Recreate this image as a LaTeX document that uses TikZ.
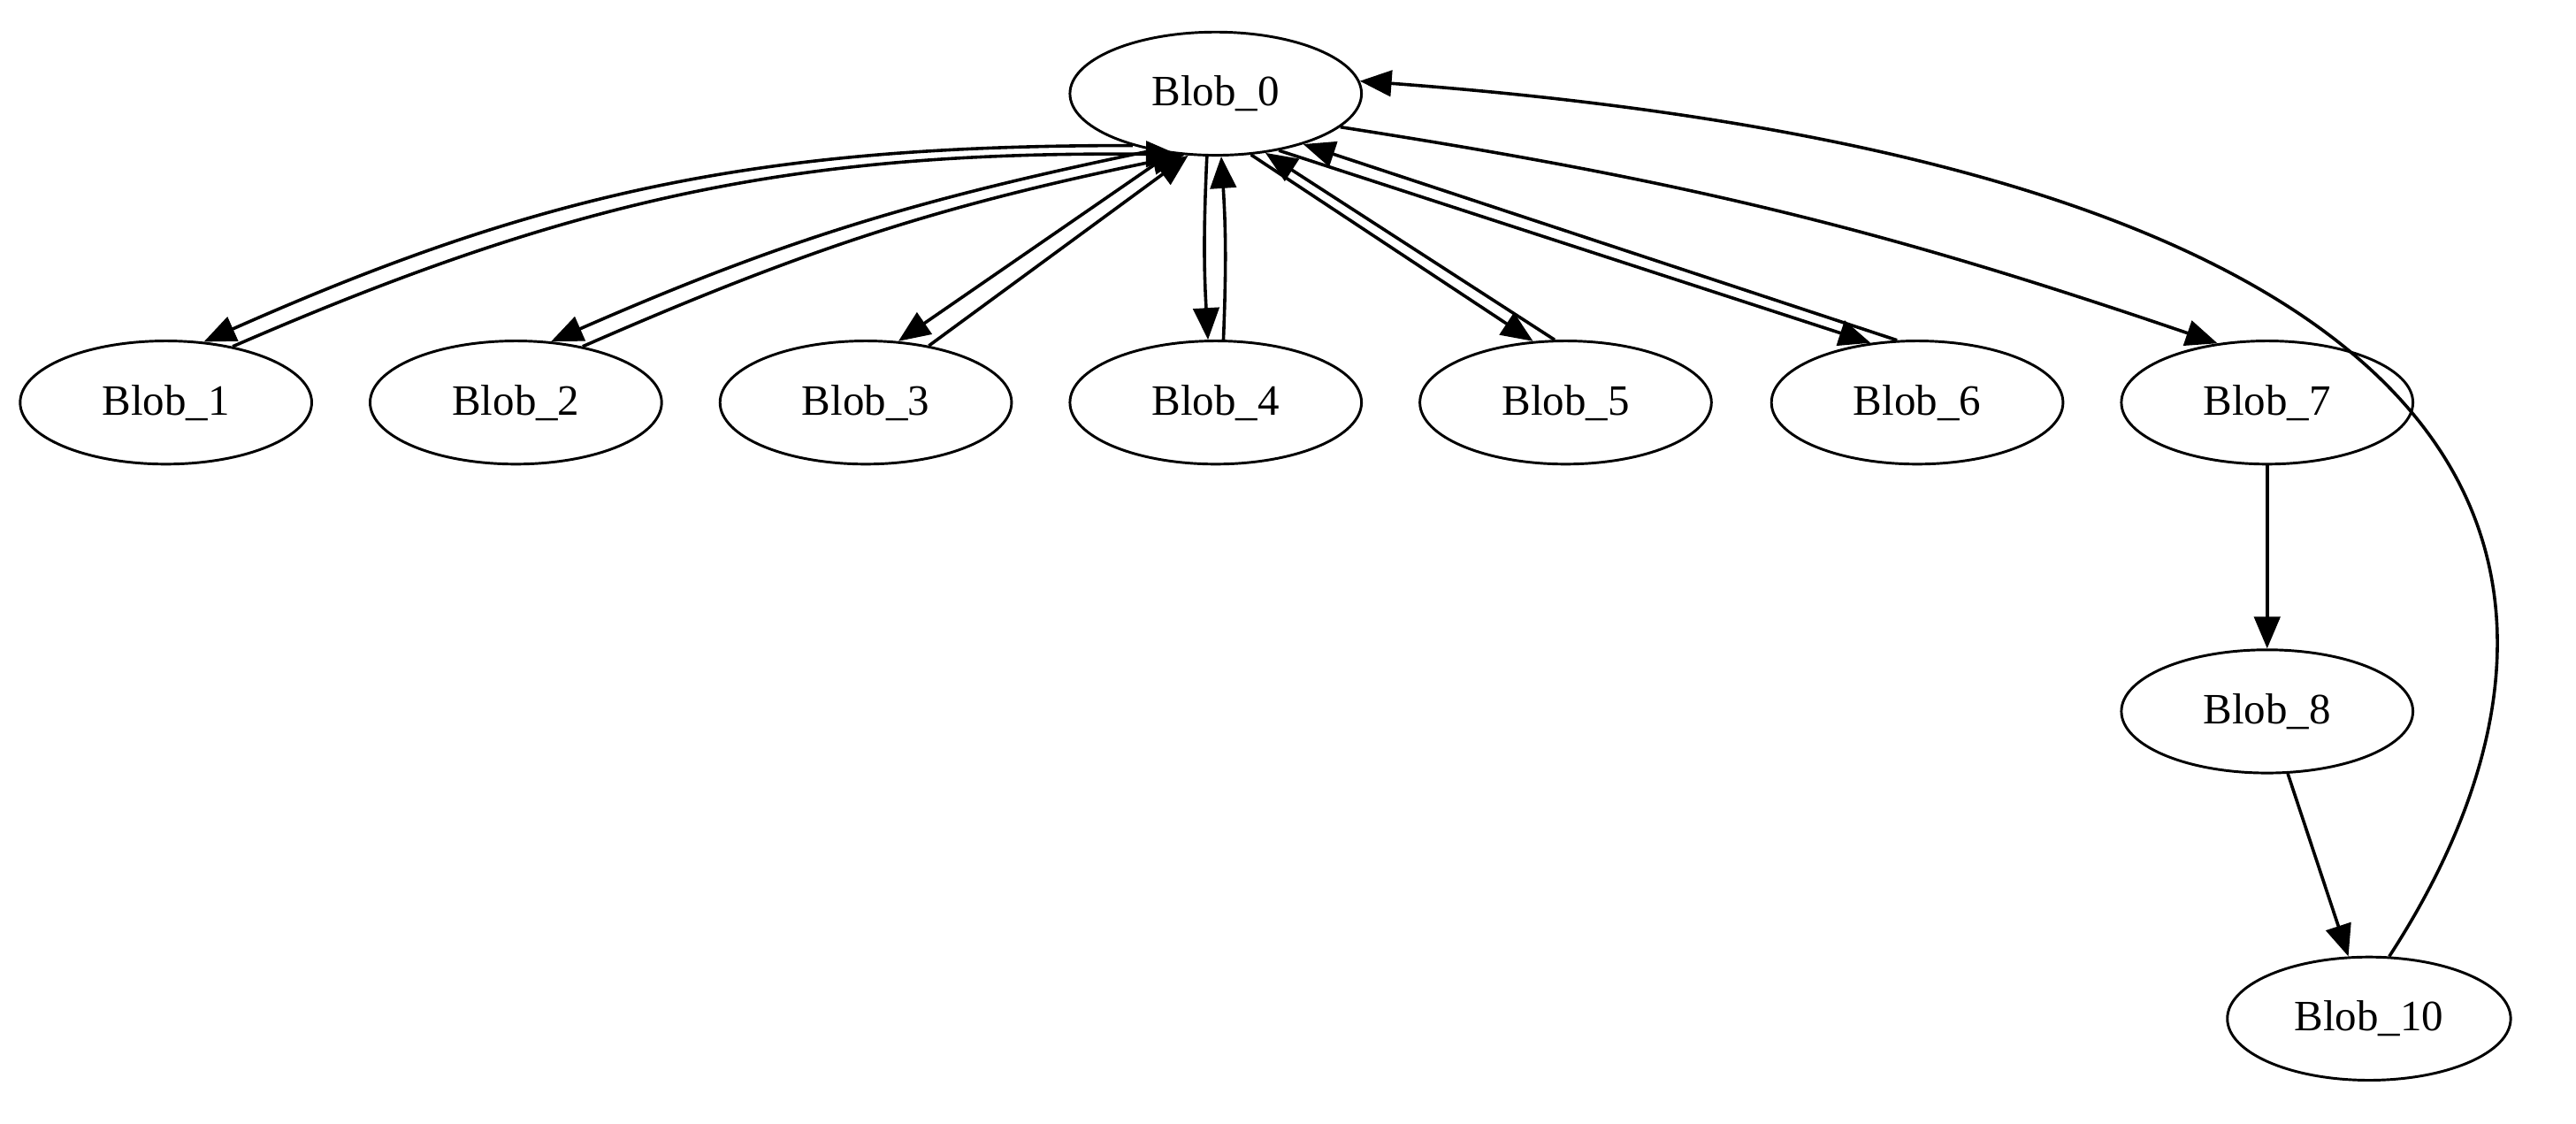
\documentclass[tikz,border=0pt]{standalone}
\usepackage{fontspec}
\setmainfont{Liberation Serif}
\usetikzlibrary{positioning, arrows.meta, shapes.geometric}
\begin{document}
\begin{tikzpicture}[x=0.02cm,y=-0.02cm,
    blob/.style={ellipse, draw, line width=0.9pt, minimum width=3.55cm, minimum height=1.5cm, font=\fontsize{15}{18}\selectfont},
    link/.style={-{Triangle[length=11pt,width=9pt]}, line width=1.1pt}]
        \useasboundingbox (0,0) rectangle (1568,684);
        % Blobs
        \node[blob] (b0) at (740,57) {Blob\_0};
        \node[blob] (b1) at (101,245) {Blob\_1};
        \node[blob] (b2) at (314,245) {Blob\_2};
        \node[blob] (b3) at (527,245) {Blob\_3};
        \node[blob] (b4) at (740,245) {Blob\_4};
        \node[blob] (b5) at (953,245) {Blob\_5};
        \node[blob] (b6) at (1167,245) {Blob\_6};
        \node[blob] (b7) at (1380,245) {Blob\_7};
        \node[blob] (b8) at (1380,433) {Blob\_8};
        \node[blob, minimum width=3.45cm] (b10) at (1442,620) {Blob\_10};
        % Links out of and back into Blob_0
        \draw[link] (b0.212) to[bend right=12] (b1.58);
        \draw[link] (b1.40) to[bend left=12] (b0.238);
        \draw[link] (b0.222) to[bend right=6] (b2.60);
        \draw[link] (b2.40) to[bend left=6] (b0.243);
        \draw[link] (b0.233) -- (b3.62);
        \draw[link] (b3.42) -- (b0.246);
        \draw[link] (b0.262) to[bend right=3] (b4.97);
        \draw[link] (b4.83) to[bend right=3] (b0.275);
        \draw[link] (b0.300) -- (b5.118);
        \draw[link] (b5.100) -- (b0.310);
        \draw[link] (b0.318) -- (b6.128);
        \draw[link] (b6.108) -- (b0.330);
        \draw[link] (b0.345) to[bend left=5] (b7.130);
        \draw[link] (b7) -- (b8);
        \draw[link] (b8) -- (b10);
        \draw[link] (b10.72) .. controls (1560,420) and (1640,110) .. (b0.5);
\end{tikzpicture}
\end{document}
